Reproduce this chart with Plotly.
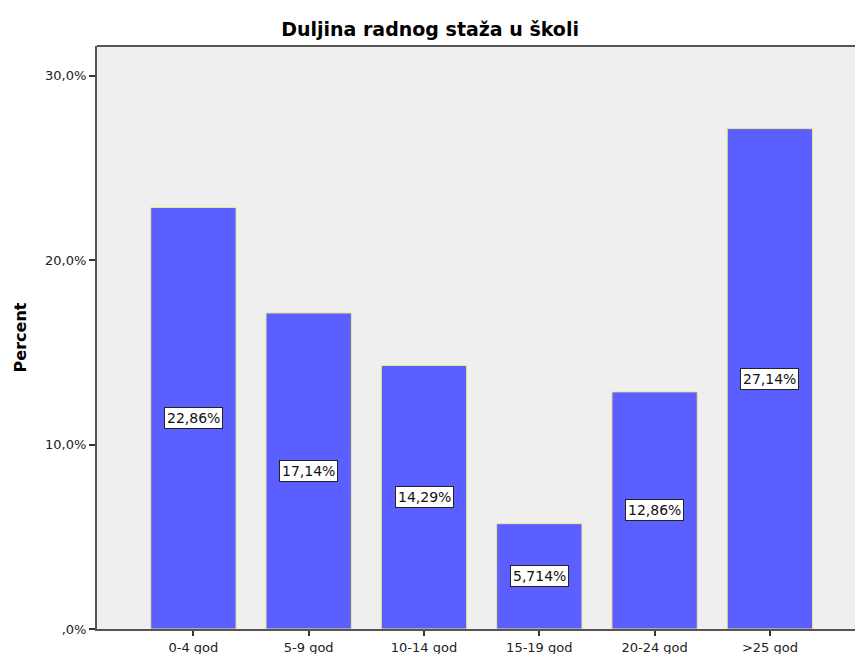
import plotly.graph_objects as go

categories = ["0-4 god", "5-9 god", "10-14 god", "15-19 god", "20-24 god", ">25 god"]
percent = [22.86, 17.14, 14.29, 5.714, 12.86, 27.14]
value_labels = ["22,86%", "17,14%", "14,29%", "5,714%", "12,86%", "27,14%"]
y_tick_vals = [0, 10, 20, 30]
y_tick_text = [",0%", "10,0%", "20,0%", "30,0%"]

FONT = "DejaVu Sans"

fig = go.Figure()
fig.add_trace(go.Bar(
    x=list(range(len(categories))),
    y=percent,
    width=0.74,
    marker=dict(color="#5B5FFF", line=dict(color="#F0E68C", width=1)),
    hoverinfo="skip",
))

for i, (v, lab) in enumerate(zip(percent, value_labels)):
    fig.add_annotation(
        x=i, y=v / 2, text=lab, showarrow=False,
        font=dict(family=FONT, size=14, color="#111111"),
        bgcolor="white", bordercolor="#222222", borderwidth=1, borderpad=2,
    )

fig.update_layout(
    width=855, height=654,
    margin=dict(l=97, r=0, t=46, b=25, autoexpand=False),
    paper_bgcolor="white",
    plot_bgcolor="#EFEFEF",
    showlegend=False,
    title=dict(text="<b>Duljina radnog staža u školi</b>", xref="container", x=0.503,
               y=1 - 29 / 654, yref="container", xanchor="center", yanchor="middle",
               font=dict(family=FONT, size=19, color="black")),
    font=dict(family=FONT, size=13, color="#222222"),
)

fig.update_xaxes(
    range=[-0.836, 5.738], automargin=False,
    tickvals=list(range(len(categories))), ticktext=categories,
    ticks="outside", ticklen=5, tickcolor="#333333", tickwidth=2,
    showgrid=False, zeroline=False,
    showline=True, linecolor="#555555", linewidth=2, mirror=False,
    tickfont=dict(family=FONT, size=13, color="#222222"),
)
fig.update_yaxes(
    range=[0, 31.62], automargin=False,
    tickvals=y_tick_vals, ticktext=y_tick_text,
    ticks="outside", ticklen=6, tickcolor="#333333", tickwidth=2,
    showgrid=False, zeroline=False,
    showline=True, linecolor="#555555", linewidth=2,
    title=dict(text="<b>Percent</b>", font=dict(family=FONT, size=16, color="black"), standoff=14),
    tickfont=dict(family=FONT, size=13, color="#222222"),
)
# top border
fig.add_shape(type="line", xref="paper", yref="paper", x0=0, x1=1, y0=1, y1=1,
              line=dict(color="#555555", width=2))

fig.write_html("out.html", config={"displayModeBar": False},
               post_script="document.body.style.margin='0';")
